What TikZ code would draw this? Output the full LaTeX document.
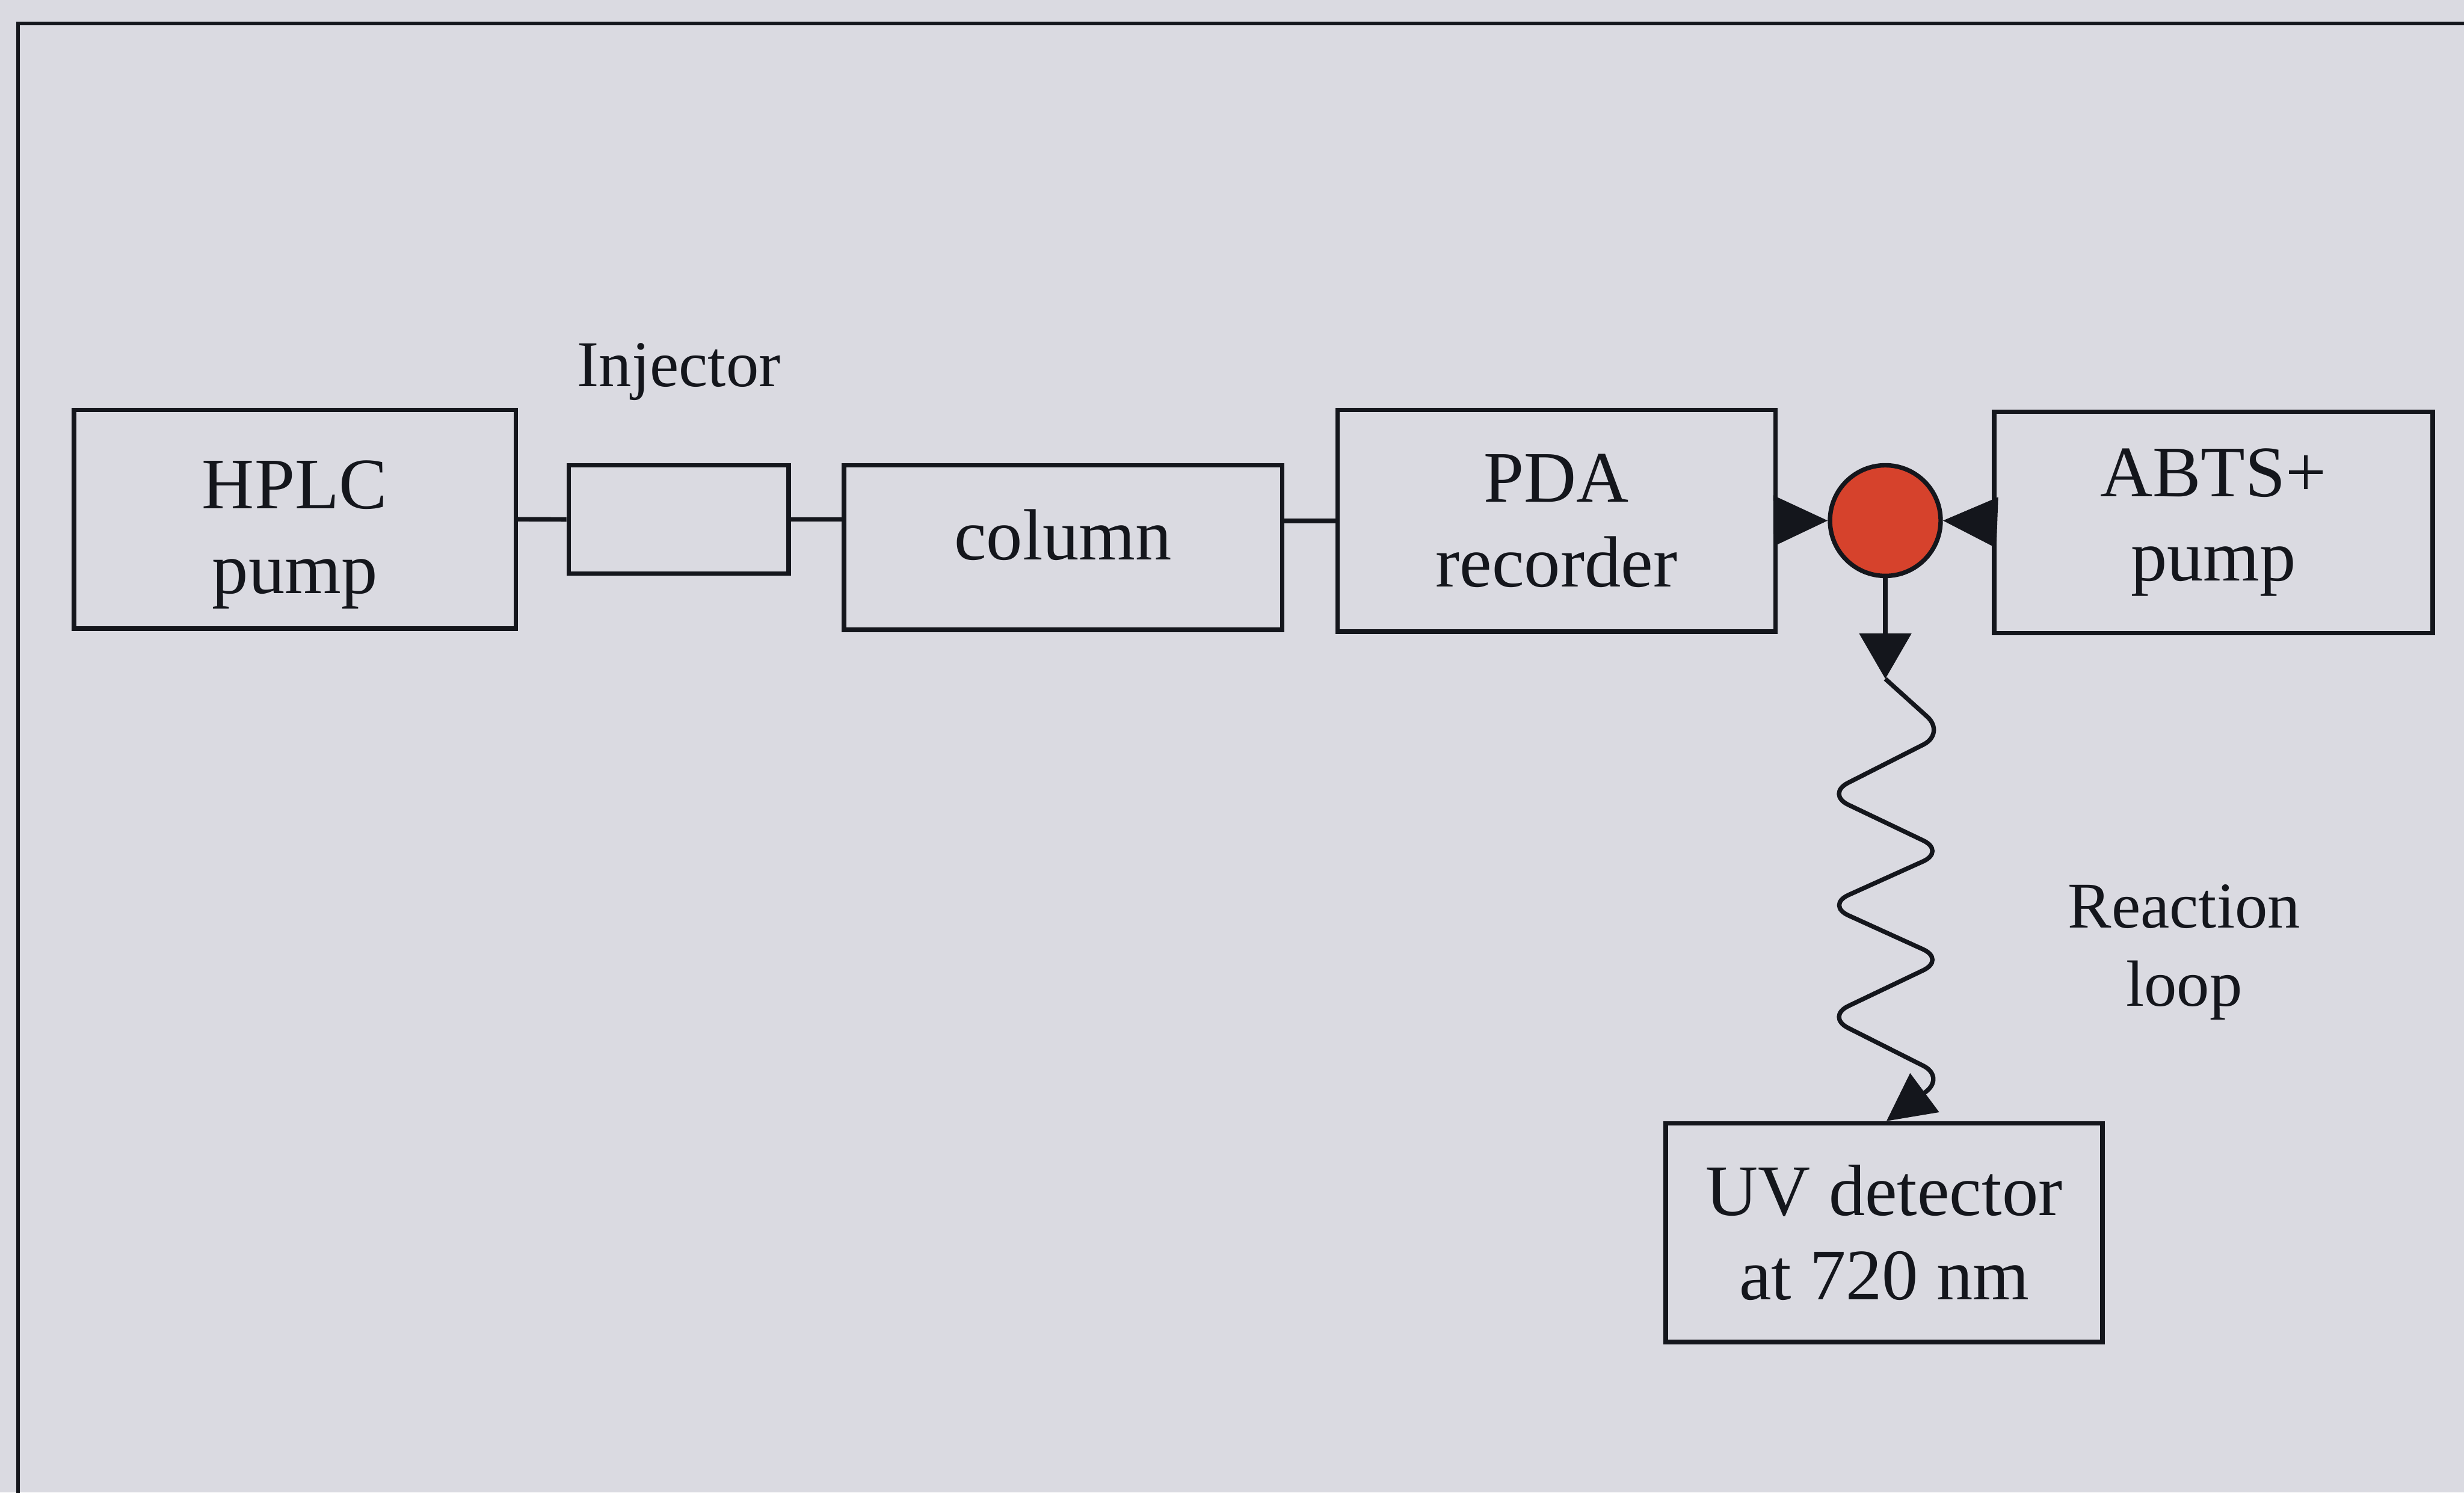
\documentclass[tikz,border=0pt]{standalone}
\usepackage{fontspec}
\setmainfont{Liberation Serif}
\usepackage{tikz}
\usetikzlibrary{positioning,calc,arrows.meta}
\usepackage{xcolor}
\newcommand{\boxfont}{\fontsize{45.5}{53}\selectfont}
\newcommand{\labfont}{\fontsize{41}{49}\selectfont}
\definecolor{paper}{RGB}{218,218,225}
\definecolor{ink}{HTML}{14161C}
\definecolor{mixred}{RGB}{214,66,44}

\begin{document}
\begin{tikzpicture}[
  unit/.style={draw=ink,line width=2.8pt,inner sep=0pt,align=center,font=\boxfont,text=ink},
  pipe/.style={draw=ink,line width=2.8pt},
  feed/.style={draw=ink,line width=2.8pt,-{Triangle[length=1.2cm,width=1.1cm]}},
  tag/.style={font=\labfont,text=ink,align=center}
]
  % fondo y marco
  \fill[paper] (0,0) rectangle (54.33,32.91);
  \useasboundingbox (0,0) rectangle (54.33,32.91);
  \draw[ink,line width=2.5pt] (54.6,32.39) -- (0.40,32.39) -- (0.40,-0.3);

  % --- Bloques de la linea HPLC ---
  \node[unit,minimum width=9.74cm,minimum height=4.82cm] (hplc) at (6.50,21.46) {\\[-0.12cm]HPLC\\pump};
  \node[unit,minimum width=4.85cm,minimum height=2.39cm] (inj) at (14.965,21.455) {};
  \node[unit,minimum width=9.66cm,minimum height=3.63cm,text height=1.1cm,text depth=0.56cm] (col) at (23.44,20.835) {column};
  \node[unit,minimum width=9.66cm,minimum height=4.89cm] (pda) at (34.32,21.425) {PDA\\recorder};
  \node[unit,minimum width=9.67cm,minimum height=4.88cm] (abts) at (48.805,21.39) {ABTS+\\pump};
  \node[unit,minimum width=9.63cm,minimum height=4.82cm] (uv) at (41.545,5.73) {UV detector\\at 720 nm};

  % --- Punto de mezcla ---
  \node[circle,draw=ink,line width=2.8pt,fill=mixred,minimum size=2.44cm,inner sep=0pt] (mix) at (41.57,21.43) {};

  % --- Etiquetas ---
  \node[tag,anchor=base] (injlab) at (14.97,24.39) {Injector};
  \node[tag] (looplab) at (48.16,11.91) {Reaction\\loop};

  % --- Conexiones ---
  \draw[pipe] (hplc.east) -- (inj.west);
  \draw[pipe] (inj.east) -- (inj.east -| col.west);
  \draw[pipe] (col.east |- pda.west) -- (pda.west);
  \draw[feed] (pda.east) -- (mix.west);
  \draw[feed] (abts.west) -- (mix.east);

  % --- Bucle de reaccion ---
  \coordinate (cointop) at (41.57,17.94);
  \draw[feed,-{Triangle[length=1.0cm,width=1.13cm]}] (mix.south) -- (cointop);
  \draw[pipe,rounded corners=0.55cm,-{Triangle[length=1.05cm,width=1.05cm]}]
    (cointop) -- (42.90,16.74) -- (40.26,15.40) -- (42.90,14.14) -- (40.26,12.95)
    -- (42.90,11.75) -- (40.26,10.49) -- (42.90,9.16) -- ([xshift=0.05cm]uv.north);
\end{tikzpicture}
\end{document}
